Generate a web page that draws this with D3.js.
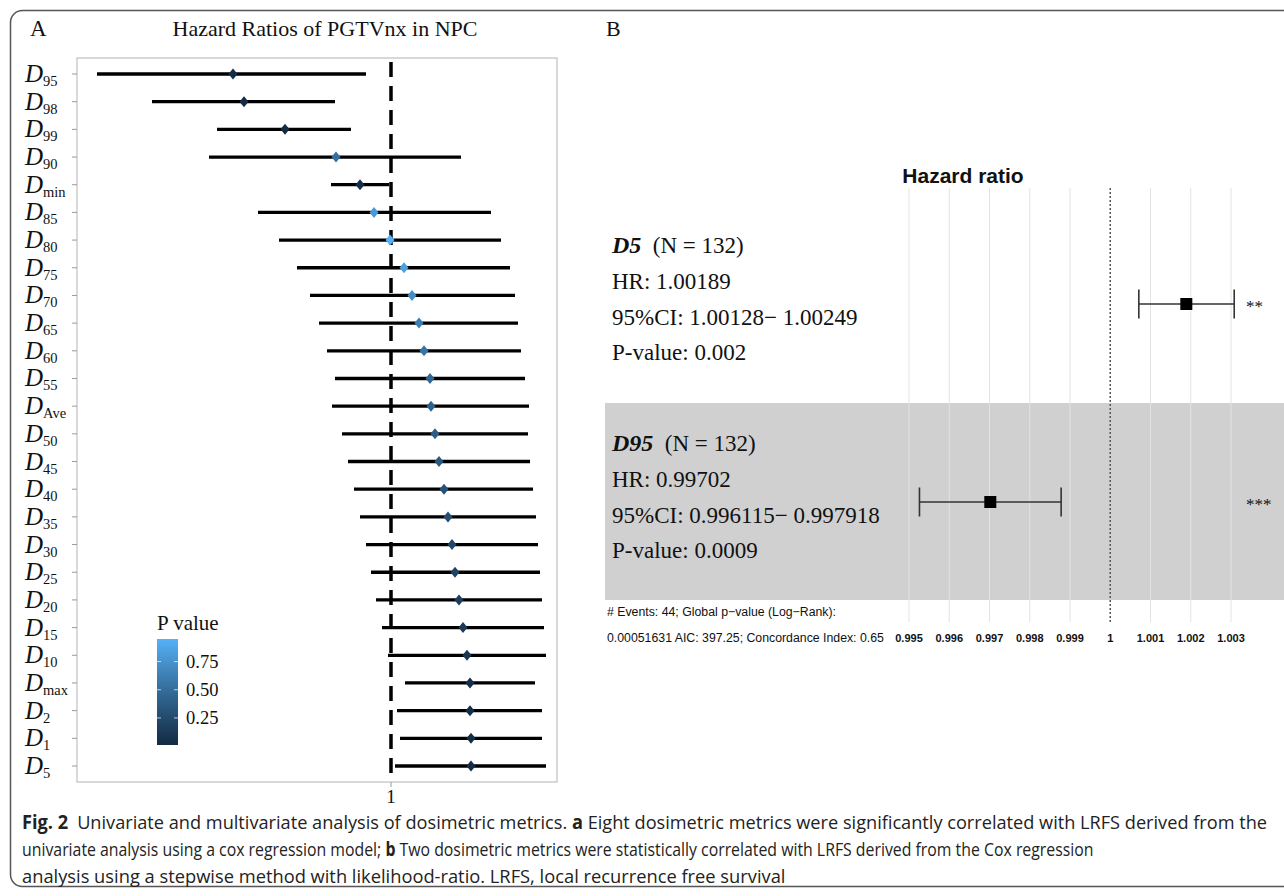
<!DOCTYPE html>
<meta charset="utf-8">
<style>
  body { margin: 0; background: #fff; }
  .serif { font-family: "Liberation Serif", "Times New Roman", serif; fill: #111; }
  .sans { font-family: "Liberation Sans", Arial, sans-serif; fill: #111; }
  .caption { font-family: "Open Sans", sans-serif; font-size: 19px; fill: #222; }
</style>
<svg width="1284" height="896"></svg>
<script src="https://cdnjs.cloudflare.com/ajax/libs/d3/7.8.5/d3.min.js"></script>
<script>
// ---- panel A data (univariate) ----
var metrics = ["95","98","99","90","min","85","80","75","70","65","60","55","Ave","50","45","40","35","30","25","20","15","10","max","2","1","5"];
var hrA   = [0.99684,0.99706,0.99788,0.99890,0.99938,0.99966,0.99998,1.00026,1.00042,1.00056,1.00066,1.00078,1.00080,1.00088,1.00096,1.00106,1.00114,1.00122,1.00128,1.00136,1.00144,1.00152,1.00158,1.00158,1.00160,1.00160];
var loA   = [0.99412,0.99522,0.99652,0.99636,0.99880,0.99734,0.99776,0.99812,0.99838,0.99856,0.99872,0.99888,0.99882,0.99902,0.99914,0.99926,0.99938,0.99950,0.99960,0.99970,0.99982,0.99994,1.00028,1.00012,1.00018,1.00008];
var hiA   = [0.99950,0.99888,0.99920,1.00140,0.99996,1.00200,1.00220,1.00238,1.00248,1.00254,1.00260,1.00268,1.00276,1.00274,1.00278,1.00284,1.00290,1.00294,1.00298,1.00302,1.00306,1.00310,1.00288,1.00302,1.00302,1.00310];
var pA    = [0.03,0.02,0.01,0.52,0.04,0.80,0.95,0.84,0.72,0.62,0.55,0.45,0.42,0.39,0.35,0.31,0.27,0.23,0.20,0.16,0.13,0.10,0.05,0.03,0.02,0.02];
var legendTicks = [0.25, 0.50, 0.75];
var xDomainA = [0.99372, 1.00332];

// ---- panel B data (multivariate) ----
var bNames  = ["D5", "D95"];
var bHr     = [1.00189, 0.99702];
var bLo     = [1.00071, 0.99526];
var bHi     = [1.00308, 0.99878];
var bHrTxt  = ["1.00189", "0.99702"];
var bCiTxt  = ["1.00128\u2212 1.00249", "0.996115\u2212 0.997918"];
var bPTxt   = ["0.002", "0.0009"];
var bStars  = ["**", "***"];
var bTicks  = [0.995,0.996,0.997,0.998,0.999,1,1.001,1.002,1.003];

var svg = d3.select("svg");

// outer frame
svg.append("rect").attr("x", 10.5).attr("y", 10.5).attr("width", 1300).attr("height", 876)
  .attr("rx", 12).attr("fill", "none").attr("stroke", "#555").attr("stroke-width", 1.5);

// ================= Panel A =================
var box = {l: 77, r: 557, t: 58, b: 782};
var x = d3.scaleLinear().domain(xDomainA).range([box.l, box.r]);
var y = d3.scalePoint().domain(metrics).range([74, 766]);
var col = d3.scaleLinear().domain(d3.extent(pA)).range(["#132B43", "#56B1F7"]).interpolate(d3.interpolateLab);

svg.append("text").attr("class", "serif").attr("x", 30).attr("y", 36).attr("font-size", 23).text("A");
svg.append("text").attr("class", "serif").attr("x", 325).attr("y", 36).attr("font-size", 22)
  .attr("text-anchor", "middle").text("Hazard Ratios of PGTVnx in NPC");

svg.append("rect").attr("x", box.l).attr("y", box.t).attr("width", box.r - box.l).attr("height", box.b - box.t)
  .attr("fill", "#fff").attr("stroke", "#b3b3b3").attr("stroke-width", 1);

// y ticks + labels
var gy = svg.append("g");
gy.selectAll("line").data(metrics).enter().append("line")
  .attr("x1", box.l - 5).attr("x2", box.l).attr("y1", d => y(d)).attr("y2", d => y(d))
  .attr("stroke", "#999");
var lab = gy.selectAll("text").data(metrics).enter().append("text")
  .attr("class", "serif").attr("x", 25).attr("y", d => y(d) + 8);
lab.append("tspan").attr("font-style", "italic").attr("font-size", 25).text("D");
lab.append("tspan").attr("font-size", 14.5).attr("dy", 4).text(d => d);

// x tick
svg.append("line").attr("x1", x(1)).attr("x2", x(1)).attr("y1", box.b).attr("y2", box.b + 5).attr("stroke", "#999");
svg.append("text").attr("class", "serif").attr("x", x(1)).attr("y", 803).attr("font-size", 19)
  .attr("text-anchor", "middle").text("1");

// reference line
svg.append("line").attr("x1", x(1)).attr("x2", x(1)).attr("y1", box.t + 4).attr("y2", box.b)
  .attr("stroke", "#000").attr("stroke-width", 3.5).attr("stroke-dasharray", "15,9");

// CI segments
svg.append("g").selectAll("line").data(metrics).enter().append("line")
  .attr("x1", (d, i) => x(loA[i])).attr("x2", (d, i) => x(hiA[i]))
  .attr("y1", d => y(d)).attr("y2", d => y(d))
  .attr("stroke", "#000").attr("stroke-width", 3.3);

// diamonds
svg.append("g").selectAll("path").data(metrics).enter().append("path")
  .attr("d", (d, i) => {
    var cx = x(hrA[i]), cy = y(d);
    return "M" + cx + "," + (cy - 5.5) + "L" + (cx + 4.5) + "," + cy + "L" + cx + "," + (cy + 5.5) + "L" + (cx - 4.5) + "," + cy + "Z";
  })
  .attr("fill", (d, i) => col(pA[i]));

// colour legend
var lg = {x: 157, w: 21, top: 639, bot: 745};
var ly = d3.scaleLinear().domain(d3.extent(pA)).range([lg.bot, lg.top]);
var grad = svg.append("defs").append("linearGradient").attr("id", "pgrad")
  .attr("x1", 0).attr("y1", 1).attr("x2", 0).attr("y2", 0);
d3.range(0, 1.0001, 0.1).forEach(t => {
  grad.append("stop").attr("offset", t).attr("stop-color", col(col.domain()[0] + t * (col.domain()[1] - col.domain()[0])));
});
svg.append("text").attr("class", "serif").attr("x", 157).attr("y", 630).attr("font-size", 21).text("P value");
svg.append("rect").attr("x", lg.x).attr("y", lg.top).attr("width", lg.w).attr("height", lg.bot - lg.top).attr("fill", "url(#pgrad)");
legendTicks.forEach(t => {
  svg.append("line").attr("x1", lg.x).attr("x2", lg.x + 4).attr("y1", ly(t)).attr("y2", ly(t)).attr("stroke", "#fff").attr("stroke-opacity", 0.7);
  svg.append("line").attr("x1", lg.x + lg.w - 4).attr("x2", lg.x + lg.w).attr("y1", ly(t)).attr("y2", ly(t)).attr("stroke", "#fff").attr("stroke-opacity", 0.7);
  svg.append("text").attr("class", "serif").attr("x", 186).attr("y", ly(t) + 6).attr("font-size", 18.5).text(t.toFixed(2));
});

// ================= Panel B =================
svg.append("text").attr("class", "serif").attr("x", 606).attr("y", 36).attr("font-size", 22).text("B");

var xb = d3.scaleLinear().domain([0.995, 1.003]).range([909, 1231]);
var rowY = [304, 502];
var rowTop = [188, 403], rowBot = [403, 600];

svg.append("rect").attr("x", 605).attr("y", rowTop[1]).attr("width", 700).attr("height", rowBot[1] - rowTop[1]).attr("fill", "#d0d0d0");

svg.append("text").attr("class", "sans").attr("x", 963).attr("y", 183).attr("font-size", 21)
  .attr("font-weight", "bold").attr("text-anchor", "middle").text("Hazard ratio");

svg.append("g").selectAll("line").data(bTicks.filter(d => d !== 1)).enter().append("line")
  .attr("x1", d => xb(d)).attr("x2", d => xb(d)).attr("y1", 188).attr("y2", 622)
  .attr("stroke", "#e3e3e3").attr("stroke-width", 1);
svg.append("line").attr("x1", xb(1)).attr("x2", xb(1)).attr("y1", 188).attr("y2", 622)
  .attr("stroke", "#555").attr("stroke-width", 1.5).attr("stroke-dasharray", "2,2");

svg.append("g").selectAll("text").data(bTicks).enter().append("text")
  .attr("class", "sans").attr("x", d => xb(d)).attr("y", 642).attr("font-size", 11).attr("font-weight", "bold")
  .attr("text-anchor", "middle").text(d => d3.format("")(d));

bNames.forEach((name, i) => {
  var base = rowY[i] - 51;
  var t0 = svg.append("text").attr("class", "serif").attr("x", 612).attr("y", base).attr("font-size", 23);
  t0.append("tspan").attr("font-weight", "bold").attr("font-style", "italic").attr("font-size", 24).text(name);
  t0.append("tspan").text("\u00a0 (N = 132)");
  svg.append("text").attr("class", "serif").attr("x", 612).attr("y", base + 36).attr("font-size", 23).text("HR: " + bHrTxt[i]);
  svg.append("text").attr("class", "serif").attr("x", 612).attr("y", base + 72).attr("font-size", 23).text("95%CI: " + bCiTxt[i]);
  svg.append("text").attr("class", "serif").attr("x", 612).attr("y", base + 107).attr("font-size", 23).text("P-value: " + bPTxt[i]);

  var g = svg.append("g").attr("stroke", "#333").attr("stroke-width", 1.6);
  g.append("line").attr("x1", xb(bLo[i])).attr("x2", xb(bHi[i])).attr("y1", rowY[i]).attr("y2", rowY[i]);
  g.append("line").attr("x1", xb(bLo[i])).attr("x2", xb(bLo[i])).attr("y1", rowY[i] - 14.5).attr("y2", rowY[i] + 14.5);
  g.append("line").attr("x1", xb(bHi[i])).attr("x2", xb(bHi[i])).attr("y1", rowY[i] - 14.5).attr("y2", rowY[i] + 14.5);
  svg.append("rect").attr("x", xb(bHr[i]) - 6).attr("y", rowY[i] - 6).attr("width", 12).attr("height", 12).attr("fill", "#000");
  svg.append("text").attr("class", "serif").attr("x", 1246).attr("y", rowY[i] + 8).attr("font-size", 17)
    .attr("fill", "#333").text(bStars[i]);
});

svg.append("text").attr("class", "sans").attr("x", 607).attr("y", 616).attr("font-size", 12.3)
  .text("# Events: 44; Global p\u2212value (Log\u2212Rank):");
svg.append("text").attr("class", "sans").attr("x", 607).attr("y", 642).attr("font-size", 12.3)
  .text("0.00051631 AIC: 397.25; Concordance Index: 0.65");

// ================= Caption =================
var capLines = [
  [["Fig. 2", true], ["\u2002Univariate and multivariate analysis of dosimetric metrics. ", false], ["a", true], [" Eight dosimetric metrics were significantly correlated with LRFS derived from the", false]],
  [["univariate analysis using a cox regression model; ", false], ["b", true], [" Two dosimetric metrics were statistically correlated with LRFS derived from the Cox regression", false]],
  [["analysis using a stepwise method with likelihood-ratio. LRFS, local recurrence free survival", false]]
];
var capEnd = [1268, 1094, 786];
capLines.forEach((parts, i) => {
  var t = svg.append("text").attr("class", "caption").attr("x", 0).attr("y", 0);
  parts.forEach(p => t.append("tspan").attr("font-weight", p[1] ? "bold" : null).text(p[0]));
  // condensed look: squeeze each line to the width it takes in the figure
  var k = (capEnd[i] - 22) / t.node().getComputedTextLength();
  t.attr("transform", "translate(22," + (829 + i * 27) + ") scale(" + k + ",1)");
});
</script>
